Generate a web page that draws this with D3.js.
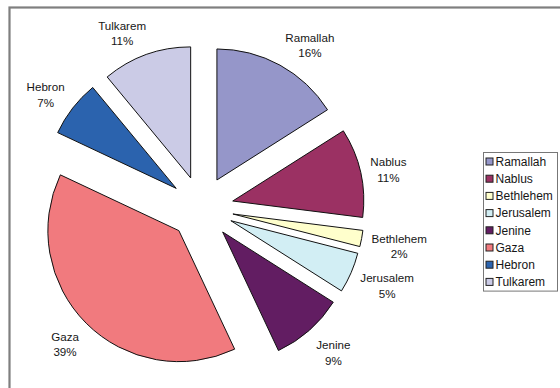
<!DOCTYPE html>
<html>
<head>
<meta charset="utf-8">
<script src="https://cdn.jsdelivr.net/npm/d3@7"></script>
<style>
  html, body { margin: 0; padding: 0; background: #fff; }
  svg { display: block; }
  text { font-family: "Liberation Sans", Arial, Helvetica, sans-serif; fill: #161616; }
</style>
</head>
<body>
<svg id="chart" width="560" height="388"></svg>
<script>
// ---- data ----
const categories = ["Ramallah", "Nablus", "Bethlehem", "Jerusalem", "Jenine", "Gaza", "Hebron", "Tulkarem"];
const values = [16, 11, 2, 5, 9, 39, 7, 11];
const colors = ["#9596C9", "#9B3163", "#FFFFCC", "#D2EEF4", "#621D62", "#F17A7E", "#2B63AE", "#CBCBE6"];

// ---- layout ----
const W = 560, H = 388;
const cx = 201.5, cy = 208;
const radius = 131;
const explode = 32;
const labelGap = 172;
const labelShift = 3;
const fontSize = 11.6;
const legendFont = 12;
const lineGap = 15.5;

const svg = d3.select("#chart");

// outer frame (extends past the right/bottom edges)
svg.append("rect")
  .attr("x", 9.5).attr("y", 7.5)
  .attr("width", W + 10).attr("height", H + 10)
  .attr("fill", "#fff")
  .attr("stroke", "#7f7f7f")
  .attr("stroke-width", 2.2);

const pie = d3.pie().sort(null).value(d => d.value).startAngle(0).endAngle(2 * Math.PI);
const data = categories.map((c, i) => ({ name: c, value: values[i], color: colors[i] }));
const arcs = pie(data);
const arcGen = d3.arc().innerRadius(0).outerRadius(radius);
const total = d3.sum(values);

const g = svg.append("g").attr("transform", `translate(${cx},${cy})`);

g.selectAll("path.slice")
  .data(arcs)
  .enter().append("path")
  .attr("class", "slice")
  .attr("transform", d => {
    const a = (d.startAngle + d.endAngle) / 2;
    return `translate(${Math.sin(a) * explode},${-Math.cos(a) * explode})`;
  })
  .attr("d", arcGen)
  .attr("fill", d => d.data.color)
  .attr("stroke", "#111")
  .attr("stroke-width", 1)
  .attr("stroke-linejoin", "miter");

// labels
const clamp = v => Math.max(-1, Math.min(1, v));
const lg = g.append("g");
arcs.forEach(d => {
  const a = (d.startAngle + d.endAngle) / 2;
  const ux = Math.sin(a), uy = -Math.cos(a);
  const t = lg.append("text")
    .attr("text-anchor", "middle")
    .attr("font-size", fontSize);
  const l1 = t.append("tspan").text(d.data.name);
  const l2 = t.append("tspan").text(d3.format(".0%")(d.data.value / total));
  const w = Math.max(l1.node().getComputedTextLength(), l2.node().getComputedTextLength());
  const hw = w / 2 + 1, hh = lineGap;
  const px = ux * labelGap, py = uy * labelGap;
  const bx = px + hw * clamp(ux * 2.5);
  const by = py + hh * clamp(uy * 1.1) + labelShift;
  l1.attr("x", bx).attr("y", by - lineGap / 2).attr("dy", "0.35em");
  l2.attr("x", bx).attr("y", by + lineGap / 2).attr("dy", "0.35em");
});

// legend
const legX = 483, legY = 152, legW = 74, rowH = 17.2;
const leg = svg.append("g");
leg.append("rect")
  .attr("x", legX + 0.5).attr("y", legY + 0.5)
  .attr("width", legW).attr("height", rowH * categories.length + 1)
  .attr("fill", "#fff")
  .attr("stroke", "#777")
  .attr("stroke-width", 1);
const rows = leg.selectAll("g.row")
  .data(data)
  .enter().append("g")
  .attr("class", "row")
  .attr("transform", (d, i) => `translate(${legX + 2.5},${legY + 9.5 + i * rowH})`);
rows.append("rect")
  .attr("x", 0.5).attr("y", -3.5)
  .attr("width", 7).attr("height", 7)
  .attr("fill", d => d.color)
  .attr("stroke", "#222")
  .attr("stroke-width", 1);
rows.append("text")
  .attr("x", 10).attr("y", 0)
  .attr("dy", "0.35em")
  .attr("font-size", legendFont)
  .text(d => d.name);
</script>
</body>
</html>
